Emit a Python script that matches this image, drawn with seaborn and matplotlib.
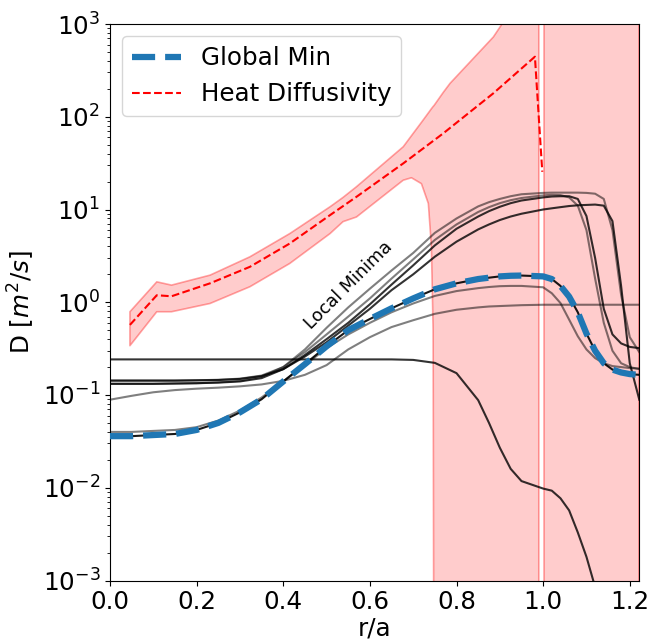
import numpy as np
import matplotlib
matplotlib.use("Agg")
import matplotlib.pyplot as plt
import seaborn as sns

# radial grid shared by the local-minimum profiles
r_grid = [0.0, 0.05, 0.1, 0.15, 0.2, 0.25, 0.3, 0.35, 0.4, 0.45, 0.5, 0.55, 0.6, 0.65,
          0.7, 0.75, 0.8, 0.85, 0.875, 0.9, 0.925, 0.95, 1.0, 1.02, 1.04, 1.06, 1.08,
          1.1, 1.12, 1.14, 1.16, 1.18, 1.2, 1.222]

# global minimum (also one of the local minima)
d_global = [0.036, 0.036, 0.037, 0.038, 0.042, 0.05, 0.065, 0.09, 0.14, 0.215, 0.335, 0.5,
            0.66, 0.86, 1.1, 1.38, 1.6, 1.78, 1.84, 1.9, 1.93, 1.94, 1.9, 1.78, 1.5, 1.15,
            0.78, 0.46, 0.3, 0.22, 0.188, 0.175, 0.168, 0.165]

# other local minima
d_min_b = [0.04, 0.04, 0.041, 0.042, 0.045, 0.053, 0.068, 0.094, 0.14, 0.21, 0.32, 0.45,
           0.6, 0.78, 0.97, 1.17, 1.32, 1.42, 1.46, 1.49, 1.5, 1.5, 1.45, 1.25, 0.98, 0.65,
           0.43, 0.31, 0.25, 0.22, 0.205, 0.2, 0.195, 0.193]
d_min_c = [0.089, 0.098, 0.107, 0.113, 0.117, 0.12, 0.124, 0.13, 0.142, 0.165, 0.21, 0.31,
           0.42, 0.54, 0.64, 0.75, 0.83, 0.88, 0.9, 0.91, 0.92, 0.93, 0.94, 0.94, 0.94, 0.94,
           0.94, 0.94, 0.94, 0.94, 0.94, 0.94, 0.94, 0.94]
d_min_d = [0.242, 0.242, 0.242, 0.242, 0.242, 0.242, 0.242, 0.242, 0.242, 0.242, 0.242, 0.242,
           0.242, 0.242, 0.239, 0.222, 0.172, 0.088, 0.05, 0.027, 0.016, 0.0118, 0.0098,
           0.0093, 0.0077, 0.0057, 0.0033, 0.0018, 0.00085, 0.0004, 0.0002, 0.0001, 0.00005,
           0.00003]
d_min_t1 = [0.143, 0.143, 0.143, 0.143, 0.144, 0.146, 0.15, 0.162, 0.2, 0.31, 0.53, 0.88,
            1.4, 2.2, 3.4, 5.6, 8.0, 10.8, 12.0, 13.0, 13.9, 14.6, 15.1, 15.2, 15.2, 15.2,
            15.2, 15.1, 14.8, 13.0, 6.0, 1.2, 0.42, 0.29]
d_min_t2 = [0.132, 0.132, 0.132, 0.133, 0.134, 0.136, 0.14, 0.152, 0.19, 0.27, 0.4, 0.6,
            0.95, 1.55, 2.5, 4.1, 6.2, 8.4, 9.6, 10.7, 11.7, 12.5, 13.5, 13.8, 13.9, 13.9,
            13.0, 8.5, 3.0, 0.85, 0.45, 0.36, 0.33, 0.32]
d_min_t3 = [0.143, 0.143, 0.143, 0.143, 0.144, 0.145, 0.149, 0.16, 0.19, 0.26, 0.37, 0.56,
            0.85, 1.35, 2.0, 3.1, 4.5, 6.1, 6.9, 7.7, 8.4, 9.0, 10.0, 10.3, 10.6, 10.9,
            11.1, 11.2, 11.3, 11.0, 7.5, 1.5, 0.22, 0.089]
d_min_t4 = [0.132, 0.132, 0.132, 0.133, 0.134, 0.137, 0.142, 0.157, 0.2, 0.29, 0.45, 0.7,
            1.1, 1.8, 2.9, 4.7, 6.9, 9.4, 10.6, 11.7, 12.6, 13.3, 14.2, 14.4, 14.3, 13.5,
            11.0, 6.0, 1.8, 0.6, 0.3, 0.22, 0.2, 0.19]

# heat diffusivity profile
r_heat = [0.046, 0.108, 0.142, 0.231, 0.323, 0.415, 0.508, 0.569, 0.677, 0.769, 0.885,
          0.981, 0.998]
d_heat = [0.57, 1.19, 1.16, 1.6, 2.41, 4.3, 8.7, 13.7, 31.4, 66, 179, 444, 25.5]

# uncertainty band of the heat diffusivity
r_band = [0.046, 0.108, 0.142, 0.231, 0.323, 0.415, 0.508, 0.538, 0.569, 0.677, 0.696,
          0.719, 0.735, 0.742, 0.746, 0.748, 0.769, 0.785, 0.885, 0.905, 0.99, 0.996,
          1.003, 1.222]
lo_band = [0.34, 0.79, 0.79, 0.97, 1.47, 2.62, 5.5, 7.4, 8.3, 20.7, 22, 19, 11.6, 4, 0.5,
           1e-5, 1e-5, 1e-5, 1e-5, 1e-5, 1e-5, np.nan, 1e-5, 1e-5]
hi_band = [0.79, 1.66, 1.53, 1.96, 3.09, 5.5, 10.7, 13.5, 17.6, 47.5, 62.5, 87, 110, 122,
           129, 132, 182, 229, 724, 1000, 1e5, np.nan, 1e5, 1e5]

local_minima = [
    (d_global, 0.9),
    (d_min_b, 0.5),
    (d_min_c, 0.5),
    (d_min_d, 0.8),
    (d_min_t1, 0.5),
    (d_min_t2, 0.8),
    (d_min_t3, 0.8),
    (d_min_t4, 0.5),
]

fs = 17.7
fig = plt.figure(figsize=(6.5, 6.44), dpi=100)
ax = fig.add_axes([110 / 650, 1 - 580.5 / 644, 529.3 / 650, 556.5 / 644])
ax.set_yscale("log")

ax.fill_between(r_band, lo_band, hi_band, facecolor=(1, 0, 0, 0.2),
                edgecolor=(1, 0, 0, 0.35), linewidth=1.2, zorder=1)

for vals, a in local_minima:
    sns.lineplot(x=r_grid, y=vals, color="black", alpha=a, linewidth=1.5, ax=ax, zorder=2)

sns.lineplot(x=r_grid, y=d_global, color="#1f77b4", linewidth=4.5, linestyle="--",
             ax=ax, zorder=3)
global_line = ax.lines[-1]
sns.lineplot(x=r_heat, y=d_heat, color="red", linewidth=1.5, linestyle="--", ax=ax, zorder=3)
heat_line = ax.lines[-1]

ax.text(0.55, 1.53, "Local Minima", rotation=45, rotation_mode="anchor",
        ha="center", va="center", fontsize=12.8)

ax.set_xlim(0, 1.222)
ax.set_ylim(1e-3, 1e3)
ax.set_xlabel("r/a", fontsize=fs, labelpad=2)
ax.set_ylabel("D [$m^2/s$]", fontsize=fs)
ax.tick_params(labelsize=fs)
ax.legend([global_line, heat_line], ["Global Min", "Heat Diffusivity"],
          loc="upper left", fontsize=fs)

fig.savefig("out.png", dpi=100)
